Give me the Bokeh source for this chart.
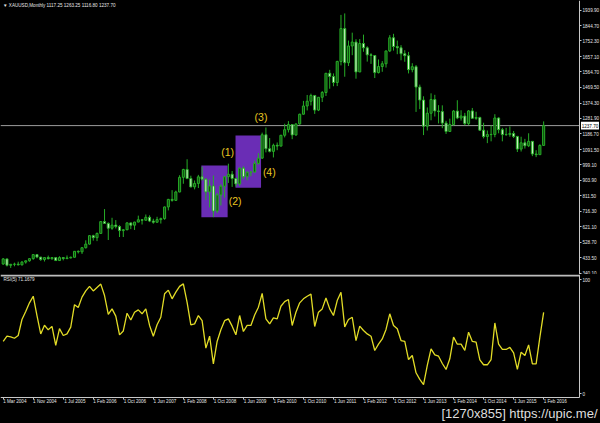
from bokeh.plotting import figure
from bokeh.layouts import column
from bokeh.models import (Range1d, FixedTicker, Label, ColumnDataSource,
                          PrintfTickFormatter, LinearAxis)
from bokeh.embed import file_html
from bokeh.resources import INLINE
from bokeh.core.properties import value

# ---------------- data ----------------
header_text = "\u25bc XAUUSD,Monthly  1117.25 1263.25 1116.80 1237.70"
rsi_title = "RSI(5) 71.1679"
watermark = "[1270x855] https://upic.me/"

open_prices = [
    396.0, 427.0, 388.0, 394.0, 395.0, 391.0, 407.5, 415.5, 428.5, 453.0,
    438.0, 423.0, 435.0, 428.0, 435.0, 417.0, 435.0, 429.0, 433.0, 437.0,
    473.0, 470.0, 495.0, 517.0, 568.5, 556.0, 582.0, 654.0, 643.0, 613.5,
    632.5, 623.5, 599.0, 604.0, 646.0, 632.0, 651.0, 665.0, 662.0, 680.0,
    657.0, 650.0, 666.0, 672.0, 743.0, 789.0, 783.0, 834.0, 923.0, 971.0,
    916.0, 865.0, 886.0, 926.0, 912.0, 834.0, 871.0, 718.0, 816.0, 869.0,
    927.0, 942.0, 916.0, 883.0, 979.0, 927.0, 954.0, 955.0, 1008.0, 1040.0,
    1182.0, 1097.0, 1081.0, 1118.0, 1113.0, 1179.0, 1213.0, 1244.0, 1181.0, 1248.0,
    1307.0, 1357.0, 1386.0, 1421.0, 1332.0, 1410.0, 1439.0, 1556.0, 1536.0, 1500.0,
    1628.0, 1828.0, 1620.0, 1722.0, 1746.0, 1564.0, 1737.0, 1711.0, 1668.0, 1664.0,
    1560.0, 1597.0, 1614.0, 1692.0, 1772.0, 1719.0, 1711.0, 1675.0, 1663.0, 1578.0,
    1596.0, 1472.0, 1393.0, 1234.0, 1313.0, 1396.0, 1327.0, 1323.0, 1253.0, 1202.0,
    1244.0, 1326.0, 1284.0, 1296.0, 1250.0, 1327.0, 1282.0, 1287.0, 1210.0, 1171.0,
    1183.0, 1184.0, 1284.0, 1213.0, 1183.0, 1184.0, 1190.0, 1172.0, 1095.0, 1133.0,
    1115.0, 1142.0, 1065.0, 1061.0, 1117.25]
high_prices = [
    432.0, 428.0, 396.5, 404.0, 410.0, 414.0, 416.0, 431.0, 456.0, 456.5,
    439.0, 438.0, 447.0, 438.0, 436.0, 443.0, 438.0, 448.0, 441.0, 474.0,
    479.0, 497.0, 540.0, 570.0, 574.0, 587.0, 654.0, 730.0, 649.0, 677.0,
    663.0, 632.0, 609.0, 649.0, 648.0, 652.0, 690.0, 670.0, 697.0, 692.0,
    671.0, 683.0, 678.0, 745.0, 792.0, 845.0, 842.0, 936.0, 975.0, 1033.0,
    933.0, 904.0, 938.0, 988.0, 918.0, 910.0, 934.0, 828.0, 881.0, 928.0,
    1006.0, 962.0, 920.0, 982.0, 990.0, 960.0, 963.0, 1024.0, 1070.0, 1195.0,
    1226.0, 1162.0, 1128.0, 1135.0, 1181.0, 1249.0, 1265.0, 1245.0, 1250.0, 1310.0,
    1388.0, 1424.0, 1432.0, 1423.0, 1411.0, 1448.0, 1557.0, 1577.0, 1555.0, 1632.0,
    1911.0, 1920.0, 1755.0, 1803.0, 1763.0, 1764.0, 1791.0, 1720.0, 1678.0, 1666.0,
    1640.0, 1630.0, 1692.0, 1788.0, 1796.0, 1755.0, 1727.0, 1696.0, 1686.0, 1617.0,
    1606.0, 1487.0, 1416.0, 1348.0, 1434.0, 1425.0, 1362.0, 1361.0, 1267.0, 1280.0,
    1332.0, 1392.0, 1331.0, 1315.0, 1332.0, 1345.0, 1322.0, 1292.0, 1255.0, 1208.0,
    1239.0, 1307.0, 1288.0, 1224.0, 1224.0, 1233.0, 1205.0, 1175.0, 1170.0, 1157.0,
    1191.0, 1142.0, 1088.0, 1124.0, 1263.25]
low_prices = [
    390.5, 381.0, 372.0, 382.0, 387.0, 387.0, 398.0, 410.0, 422.0, 431.0,
    415.0, 411.0, 424.0, 422.0, 414.0, 414.0, 418.0, 425.0, 430.0, 436.0,
    460.0, 457.0, 490.0, 514.0, 538.0, 535.0, 582.0, 640.0, 542.0, 604.0,
    612.0, 560.0, 560.0, 602.0, 608.0, 603.0, 650.0, 636.0, 661.0, 651.0,
    641.0, 648.0, 642.0, 665.0, 722.0, 775.0, 780.0, 832.0, 884.0, 912.0,
    862.0, 850.0, 858.0, 903.0, 786.0, 740.0, 681.0, 705.0, 752.0, 800.0,
    889.0, 865.0, 867.0, 870.0, 913.0, 905.0, 930.0, 952.0, 1001.0, 1036.0,
    1075.0, 1075.0, 1044.0, 1088.0, 1112.0, 1166.0, 1196.0, 1155.0, 1176.0, 1243.0,
    1305.0, 1330.0, 1360.0, 1309.0, 1326.0, 1381.0, 1418.0, 1462.0, 1477.0, 1478.0,
    1604.0, 1535.0, 1600.0, 1666.0, 1523.0, 1564.0, 1687.0, 1627.0, 1613.0, 1527.0,
    1555.0, 1565.0, 1591.0, 1685.0, 1694.0, 1672.0, 1635.0, 1626.0, 1555.0, 1562.0,
    1321.0, 1338.0, 1180.0, 1208.0, 1270.0, 1293.0, 1251.0, 1222.0, 1187.0, 1202.0,
    1238.0, 1277.0, 1268.0, 1240.0, 1240.0, 1281.0, 1273.0, 1206.0, 1160.0, 1131.0,
    1142.0, 1167.0, 1191.0, 1142.0, 1175.0, 1170.0, 1162.0, 1077.0, 1080.0, 1098.0,
    1107.0, 1052.0, 1046.0, 1061.0, 1116.80]
close_prices = [
    427.0, 388.0, 394.0, 395.0, 391.0, 407.5, 415.5, 428.5, 453.0, 438.0,
    423.0, 435.0, 428.0, 435.0, 417.0, 435.0, 429.0, 433.0, 437.0, 473.0,
    470.0, 495.0, 517.0, 568.5, 556.0, 582.0, 654.0, 643.0, 613.5, 632.5,
    623.5, 599.0, 604.0, 646.0, 632.0, 651.0, 665.0, 662.0, 680.0, 657.0,
    650.0, 666.0, 672.0, 743.0, 789.0, 783.0, 834.0, 923.0, 971.0, 916.0,
    865.0, 886.0, 926.0, 912.0, 834.0, 871.0, 718.0, 816.0, 869.0, 927.0,
    942.0, 916.0, 883.0, 979.0, 927.0, 954.0, 955.0, 1008.0, 1040.0, 1182.0,
    1097.0, 1081.0, 1118.0, 1113.0, 1179.0, 1213.0, 1244.0, 1181.0, 1248.0, 1307.0,
    1357.0, 1386.0, 1421.0, 1332.0, 1410.0, 1439.0, 1556.0, 1536.0, 1500.0, 1628.0,
    1828.0, 1620.0, 1722.0, 1746.0, 1564.0, 1737.0, 1711.0, 1668.0, 1664.0, 1560.0,
    1597.0, 1614.0, 1692.0, 1772.0, 1719.0, 1711.0, 1675.0, 1663.0, 1578.0, 1596.0,
    1472.0, 1393.0, 1234.0, 1313.0, 1396.0, 1327.0, 1323.0, 1253.0, 1202.0, 1244.0,
    1326.0, 1284.0, 1296.0, 1250.0, 1327.0, 1282.0, 1287.0, 1210.0, 1171.0, 1183.0,
    1184.0, 1284.0, 1213.0, 1183.0, 1184.0, 1190.0, 1172.0, 1095.0, 1133.0, 1115.0,
    1142.0, 1065.0, 1061.0, 1117.25, 1237.70]
rsi_values = [
    45.8, 50.4, 49.8, 48.6, 51.0, 65.0, 72.0, 79.6, 85.4, 68.5,
    52.4, 60.0, 56.0, 59.0, 42.3, 57.0, 51.0, 52.4, 58.3, 78.0,
    75.5, 84.6, 90.0, 94.0, 90.0, 93.0, 96.0, 86.0, 69.6, 74.3,
    68.0, 51.6, 55.0, 70.5, 64.6, 71.4, 73.4, 70.0, 74.3, 59.8,
    50.4, 60.4, 67.0, 87.5, 90.7, 83.1, 89.0, 94.0, 96.2, 80.0,
    60.4, 61.2, 68.5, 64.0, 40.0, 50.4, 26.2, 45.8, 56.0, 64.0,
    65.6, 59.2, 51.6, 68.5, 54.5, 59.8, 59.8, 69.0, 75.8, 87.8,
    65.6, 61.2, 66.5, 65.6, 76.6, 80.7, 82.5, 59.8, 71.4, 79.6,
    83.1, 85.4, 87.2, 58.9, 71.4, 74.3, 83.9, 74.3, 68.5, 81.6,
    88.9, 58.6, 65.0, 67.0, 46.6, 59.2, 55.4, 52.4, 50.4, 37.9,
    43.4, 48.0, 56.3, 70.0, 59.8, 56.9, 46.6, 45.8, 30.0, 33.5,
    18.4, 12.6, 8.1, 24.8, 39.3, 34.1, 32.9, 26.5, 21.3, 30.6,
    49.6, 43.4, 43.4, 37.9, 53.9, 45.8, 45.2, 29.7, 25.4, 25.4,
    30.0, 62.0, 43.4, 38.8, 38.8, 40.6, 35.9, 21.3, 36.4, 33.5,
    42.8, 26.2, 26.2, 49.6, 71.17]

date_tick_labels = ["1 Mar 2004", "1 Nov 2004", "1 Jul 2005", "1 Feb 2006", "1 Oct 2006",
                    "1 Jun 2007", "1 Feb 2008", "1 Oct 2008", "1 Jun 2009", "1 Feb 2010",
                    "1 Oct 2010", "1 Jun 2011", "1 Feb 2012", "1 Oct 2012", "1 Jun 2013",
                    "1 Feb 2014", "1 Oct 2014", "1 Jun 2015", "1 Feb 2016"]
bars_per_date_label = 8
price_ticks = [340.10, 433.50, 528.70, 621.10, 716.30, 811.50, 903.90, 999.10, 1091.50,
               1186.70, 1281.90, 1374.30, 1469.50, 1564.70, 1657.10, 1752.30, 1844.70, 1939.90]
rsi_ticks = [0, 100]
bid_price = 1237.70

box_left = [52.8, 61.9]
box_right = [59.8, 68.7]
box_bottom = [680.6, 859.4]
box_top = [995.0, 1177.5]
wave_text = ["(1)", "(2)", "(3)", "(4)"]
wave_x = [59.8, 61.8, 68.7, 70.9]
wave_y = [1075.9, 779.1, 1288.8, 952.5]

# ---------------- layout / styling ----------------
FONT = "Liberation Sans"
SMALL = "4.6px"
AXIS_C = "#c8c8c8"
LABEL_C = "#e6e6e6"
CANDLE_LINE = "#27ad27"
BULL_FILL = "#0f4d0f"
BEAR_FILL = "#d6f5cf"
W = 600
MAIN_H = 274
SUB_H = 149
X_START, X_END = -0.72, 159.15      # bar units across the full width
AXIS_X = 153.55                      # price scale position (bar units)
PRICE_LO, PRICE_HI = 332.1, 1998.6
RSI_LO, RSI_HI = -26.0, 104.4
TIME_AXIS_Y = -2.97                  # time scale position in RSI units
LABEL_SHIFT = 3.1                    # MT4 date labels start at their tick

px_x = (X_END - X_START) / W
px_price = (PRICE_HI - PRICE_LO) / MAIN_H
px_rsi = (RSI_HI - RSI_LO) / SUB_H

n = len(close_prices)
idx = list(range(n))
src = ColumnDataSource(dict(
    x=idx, o=open_prices, h=high_prices, l=low_prices, c=close_prices,
    top=[max(o, c) for o, c in zip(open_prices, close_prices)],
    bottom=[min(o, c) for o, c in zip(open_prices, close_prices)],
    fill=[BULL_FILL if c >= o else BEAR_FILL for o, c in zip(open_prices, close_prices)],
))

x_range = Range1d(X_START, X_END)


def style_axis(ax):
    ax.axis_line_color = AXIS_C
    ax.axis_line_width = 1
    ax.major_tick_line_color = AXIS_C
    ax.major_tick_in = 0
    ax.major_tick_out = 2
    ax.minor_tick_line_color = None
    ax.major_label_text_color = LABEL_C
    ax.major_label_text_font = FONT
    ax.major_label_text_font_size = SMALL
    ax.major_label_standoff = 1


# ---------------- main price panel ----------------
p1 = figure(frame_width=W, frame_height=MAIN_H, x_range=x_range,
            y_range=Range1d(PRICE_LO, PRICE_HI),
            x_axis_location=None, y_axis_location="right", toolbar_location=None,
            output_backend="svg", background_fill_color="black", border_fill_color="black",
            outline_line_color=None, min_border=0)
p1.xgrid.visible = False
p1.ygrid.visible = False

p1.quad(left=box_left, right=box_right, bottom=box_bottom, top=box_top,
        fill_color="#6a2db5", line_color=None)
p1.segment(x0=[X_START], x1=[AXIS_X], y0=[bid_price], y1=[bid_price],
           line_color="#9c9c9c", line_width=1)
p1.segment(x0="x", y0="l", x1="x", y1="h", source=src, line_color=CANDLE_LINE, line_width=1)
p1.vbar(x="x", width=0.55, top="top", bottom="bottom", fill_color="fill",
        line_color=CANDLE_LINE, line_width=1, source=src)
p1.text(x=wave_x, y=wave_y, text=wave_text, text_color="#e9c621", text_font_size="10.5px",
        text_font=value(FONT), text_align="center", text_baseline="middle")

# current price tag on the price scale
p1.quad(left=[AXIS_X + 1.5 * px_x], right=[AXIS_X + 19.5 * px_x],
        bottom=[bid_price - 3.8 * px_price], top=[bid_price + 3.8 * px_price],
        fill_color="white", line_color=None)
p1.text(x=[AXIS_X + 2.2 * px_x], y=[bid_price], text=["%.2f" % bid_price],
        text_color="black", text_font_size=SMALL, text_font=value(FONT),
        text_align="left", text_baseline="middle")

p1.add_layout(Label(x=2.5, y=MAIN_H - 5, x_units="screen", y_units="screen", text=header_text,
                    text_font=FONT, text_font_size=SMALL, text_color=LABEL_C,
                    text_baseline="middle"))

pax = p1.yaxis[0]
pax.ticker = FixedTicker(ticks=price_ticks)
pax.formatter = PrintfTickFormatter(format="%.2f")
pax.fixed_location = AXIS_X
style_axis(pax)

# ---------------- RSI panel ----------------
p2 = figure(frame_width=W, frame_height=SUB_H, x_range=x_range, y_range=Range1d(RSI_LO, RSI_HI),
            x_axis_location="below", y_axis_location="right", toolbar_location=None,
            output_backend="svg", background_fill_color="black", border_fill_color="black",
            outline_line_color=None, min_border=0)
p2.xgrid.visible = False
p2.ygrid.visible = False
p2.segment(x0=[X_START], x1=[AXIS_X], y0=[RSI_HI - 0.9 * px_rsi], y1=[RSI_HI - 0.9 * px_rsi],
           line_color="#bdbdbd", line_width=2)
p2.line(x=idx, y=rsi_values, line_color="#e2dc26", line_width=1.3)
p2.add_layout(Label(x=3, y=99.6, x_units="screen", text=rsi_title, text_font=FONT,
                    text_font_size=SMALL, text_color=LABEL_C, text_baseline="middle"))
p2.add_layout(Label(x=597, y=10, x_units="screen", y_units="screen", text=watermark,
                    text_font=FONT, text_font_size="13px", text_color="#dedede",
                    text_align="right", text_baseline="middle"))

rax = p2.yaxis[0]
rax.ticker = FixedTicker(ticks=rsi_ticks)
rax.fixed_location = AXIS_X
rax.bounds = (TIME_AXIS_Y, RSI_HI)
style_axis(rax)

date_ticks = [i * bars_per_date_label for i in range(len(date_tick_labels))]
tick_axis = p2.xaxis[0]
style_axis(tick_axis)
tick_axis.ticker = FixedTicker(ticks=date_ticks)
tick_axis.major_label_overrides = {t: "" for t in date_ticks}
tick_axis.major_label_text_font_size = "0px"
tick_axis.major_label_standoff = 0
tick_axis.fixed_location = TIME_AXIS_Y
tick_axis.bounds = (X_START, AXIS_X)

label_pos = [t + LABEL_SHIFT for t in date_ticks]
label_axis = LinearAxis(ticker=FixedTicker(ticks=label_pos),
                        major_label_overrides={p: s for p, s in zip(label_pos, date_tick_labels)})
style_axis(label_axis)
label_axis.axis_line_color = None
label_axis.major_tick_line_color = None
label_axis.major_tick_out = 0
label_axis.major_label_standoff = 2
label_axis.fixed_location = TIME_AXIS_Y
p2.add_layout(label_axis, "below")

layout = column(p1, p2, spacing=0, styles={"background-color": "black"})
open("out.html", "w").write(file_html(layout, INLINE))
